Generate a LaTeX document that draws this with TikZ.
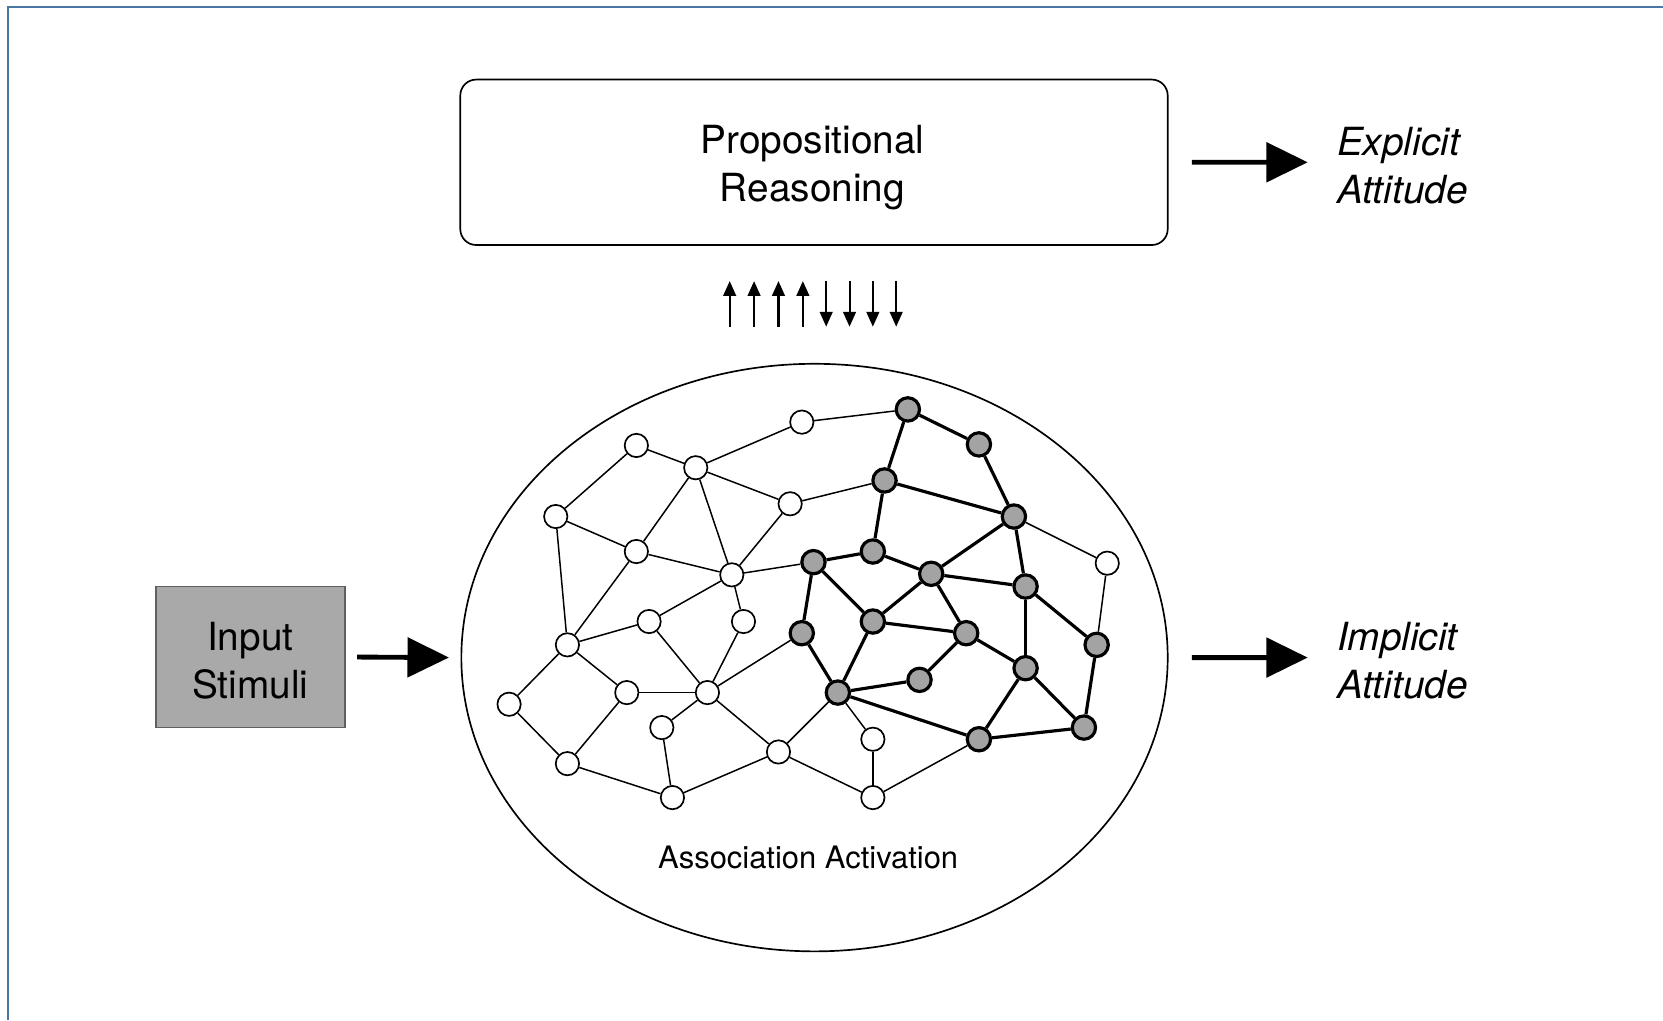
\documentclass[tikz,border=0pt]{standalone}
\usepackage{fontspec}
\setmainfont{TeX Gyre Heros}
\usetikzlibrary{arrows.meta,shapes.geometric}
\definecolor{framec}{HTML}{4A76A5}
\definecolor{nodegray}{HTML}{A3A3A3}
\definecolor{boxgray}{HTML}{A9A9A9}
\definecolor{boxedge}{HTML}{606060}
\tikzset{
  wn/.style={circle,draw=black,line width=0.45pt,fill=white,minimum size=2.2mm,inner sep=0pt},
  gn/.style={circle,draw=black,line width=0.85pt,fill=nodegray,minimum size=2.2mm,inner sep=0pt},
  thinedge/.style={line width=0.4pt,black},
  thickedge/.style={line width=0.85pt,black},
  bigarrow/.style={line width=1.3pt,-{Triangle[length=3.9mm,width=3.7mm]}},
  smallarrow/.style={line width=0.55pt,-{Triangle[length=1.4mm,width=1.2mm]}},
  txt/.style={font=\fontsize{10.4}{12.8}\selectfont,inner sep=0pt,align=center},
  itxt/.style={font=\fontsize{10.4}{12.8}\selectfont\itshape,inner sep=0pt,align=left,anchor=west}
}
\begin{document}
\begin{tikzpicture}[x=0.1mm,y=-0.1mm]
\useasboundingbox (0,0) rectangle (1568,962);
% frame
\draw[framec,line width=0.75pt] (7.5,962) -- (7.5,6.5) -- (1568,6.5);

% propositional box
\node[draw,line width=0.45pt,rounded corners=1.5mm,minimum width=66.7mm,minimum height=15.6mm,inner sep=0pt] (prop) at (767.5,153) {};
\node[txt] (proptxt) at (766,158) {Propositional\\Reasoning};
% ellipse
\node[draw,ellipse,line width=0.45pt,minimum width=66.6mm,minimum height=55.4mm,inner sep=0pt] (ell) at (768,620) {};
\node[font=\fontsize{8.3}{10}\selectfont,inner sep=0pt] (assoc) at (762,808) {Association Activation};
% input box
\node[draw=boxedge,fill=boxgray,line width=0.45pt,minimum width=17.8mm,minimum height=13.3mm,inner sep=0pt] (inp) at (236,619.5) {};
\node[txt] (inptxt) at (236,623) {Input\\Stimuli};
% attitudes
\node[itxt] (expl) at (1260,156) {Explicit\\Attitude};
\node[itxt] (impl) at (1260,623) {Implicit\\Attitude};

% big arrows
\draw[bigarrow] ([xshift=1.1mm]inp.east) -- ([xshift=-1.1mm]ell.west);
\draw[bigarrow] ([xshift=2.2mm]prop.east) -- ([xshift=-2.7mm,yshift=0.3mm]expl.west);
\draw[bigarrow] ([xshift=2.2mm]ell.east) -- ([xshift=-2.7mm,yshift=0.3mm]impl.west);

% small arrows
\foreach \i/\x in {1/688,2/711,3/734,4/757}{
  \coordinate (ua\i) at (\x,308);
  \coordinate (ub\i) at (\x,265);
  \draw[smallarrow] (ua\i) -- (ub\i);
}
\foreach \i/\x in {1/779,2/801,3/823,4/845}{
  \coordinate (da\i) at (\x,265);
  \coordinate (db\i) at (\x,308);
  \draw[smallarrow] (da\i) -- (db\i);
}

% white nodes
\node[wn] (w1) at (600,420) {};
\node[wn] (w2) at (656,441) {};
\node[wn] (w3) at (756,398) {};
\node[wn] (w4) at (524,487) {};
\node[wn] (w5) at (745,475) {};
\node[wn] (w6) at (600,520) {};
\node[wn] (w7) at (690,542) {};
\node[wn] (w8) at (612,586) {};
\node[wn] (w9) at (701,586) {};
\node[wn] (w10) at (535,608) {};
\node[wn] (w11) at (480,664) {};
\node[wn] (w12) at (591,653) {};
\node[wn] (w13) at (667,653) {};
\node[wn] (w14) at (624,686) {};
\node[wn] (w15) at (535,720) {};
\node[wn] (w16) at (634,752) {};
\node[wn] (w17) at (734,709) {};
\node[wn] (w18) at (823,697) {};
\node[wn] (w19) at (823,752) {};
\node[wn] (w20) at (1044,531) {};
% gray nodes
\node[gn] (g1) at (856,386) {};
\node[gn] (g2) at (923,419) {};
\node[gn] (g3) at (834,453) {};
\node[gn] (g4) at (956,487) {};
\node[gn] (g5) at (823,520) {};
\node[gn] (g6) at (767,530) {};
\node[gn] (g7) at (878,541) {};
\node[gn] (g8) at (967,553) {};
\node[gn] (g9) at (823,586) {};
\node[gn] (g10) at (756,597) {};
\node[gn] (g11) at (911,597) {};
\node[gn] (g12) at (1034,608) {};
\node[gn] (g13) at (967,630) {};
\node[gn] (g14) at (867,641) {};
\node[gn] (g15) at (790,653) {};
\node[gn] (g16) at (923,697) {};
\node[gn] (g17) at (1022,686) {};

% thin edges
\foreach \a/\b in {w1/w4,w1/w2,w2/w3,w2/w5,w2/w6,w2/w7,w4/w6,w4/w10,w6/w7,w6/w10,w5/w7,w7/g6,w7/w8,w7/w9,w3/g1,w5/g3,g4/w20,w20/g12,w8/w10,w10/w11,w10/w12,w11/w15,w12/w15,w12/w13,w8/w13,w9/w13,w13/g10,w13/w14,w13/w17,w14/w16,w15/w16,w16/w17,g15/w17,g15/w18,w18/w19,w17/w19,w19/g16}
  \draw[thinedge] (\a) -- (\b);
% thick edges
\foreach \a/\b in {g1/g2,g1/g3,g2/g4,g3/g4,g3/g5,g5/g6,g5/g7,g4/g7,g4/g8,g7/g8,g6/g9,g6/g10,g7/g9,g7/g11,g8/g13,g8/g12,g9/g11,g9/g15,g10/g15,g11/g13,g11/g14,g14/g15,g15/g16,g13/g17,g13/g16,g16/g17,g12/g17}
  \draw[thickedge] (\a) -- (\b);
\end{tikzpicture}
\end{document}
